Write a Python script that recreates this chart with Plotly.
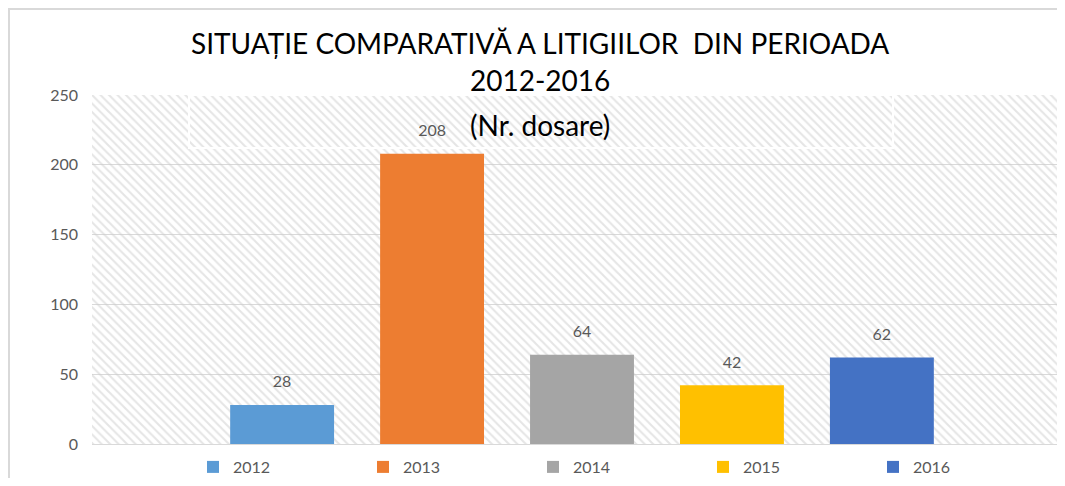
import plotly.graph_objects as go

# ---- data ----
years = ["2012", "2013", "2014", "2015", "2016"]
values = [28, 208, 64, 42, 62]
colors = ["#5B9BD5", "#ED7D31", "#A5A5A5", "#FFC000", "#4472C4"]
category = "Nr. dosare"
title_lines = ["SITUAȚIE COMPARATIVĂ A LITIGIILOR\u00a0 DIN PERIOADA", "2012-2016", "(Nr. dosare)"]
y_ticks = [0, 50, 100, 150, 200, 250]

FONT = "Lato"
OFF = 8                      # page body margin offset of the figure on screen
W, H = 1065 - 2 * OFF, 486 - 2 * OFF
ML = 92 - OFF                # plot left  (screen x 92)
MT = 95 - OFF                # plot top   (screen y 95)
MB = H - (444 - OFF)         # plot bottom (screen y 444)
MR = 0
PW = W - ML - MR
PH = H - MT - MB
FULL_PW = 980                # full plot width of the (cropped) original

def px_x(sx):
    return (sx - OFF - ML) / PW

def px_y(sy):
    return (H - MB - (sy - OFF)) / PH

fig = go.Figure()

# hatched plot-area background (decoration) on the base helper axis
fig.add_trace(go.Scatter(
    x=[0, 1, 1, 0, 0], y=[0, 0, 250, 250, 0],
    xaxis="x", yaxis="y", mode="lines", line=dict(width=0),
    fill="toself", fillcolor="rgba(0,0,0,0)",
    fillpattern=dict(shape="\\", fgcolor="#cccccc", bgcolor="rgba(0,0,0,0)",
                     size=6, solidity=0.35),
    hoverinfo="skip", showlegend=False,
))

for yr, v, c in zip(years, values, colors):
    fig.add_trace(go.Bar(
        x=[category], y=[v], name=yr, xaxis="x2", yaxis="y",
        offsetgroup=yr,
        marker=dict(color=c, line=dict(width=0)),
    ))

# value labels, grouped like the bars
for yr, v in zip(years, values):
    fig.add_trace(go.Scatter(
        x=[category], y=[v], xaxis="x2", yaxis="y", offsetgroup=yr,
        mode="markers+text", text=[str(v)], textposition="top center",
        marker=dict(size=20, color="rgba(0,0,0,0)"),
        textfont=dict(family=FONT, size=16, color="#595959"),
        cliponaxis=False, hoverinfo="skip", showlegend=False,
    ))

for line, yy in zip(title_lines, [43, 80, 125]):
    fig.add_annotation(
        text=line, x=px_x(540), xref="paper", y=px_y(yy), yref="paper",
        showarrow=False, xanchor="center", yanchor="middle",
        font=dict(family=FONT, size=28, color="#000000"),
    )

# outer chart border (partially cropped) and title box outline
fig.add_shape(type="rect", xref="paper", yref="paper",
              x0=px_x(9), x1=px_x(1100), y0=px_y(520), y1=px_y(9),
              line=dict(color="#d9d9d9", width=2), layer="above")
fig.add_shape(type="rect", xref="paper", yref="paper",
              x0=px_x(189), x1=px_x(893), y0=px_y(148), y1=px_y(95),
              line=dict(color="#ffffff", width=2), layer="above")

fig.update_layout(
    width=W, height=H,
    margin=dict(l=ML, r=MR, t=MT, b=MB, autoexpand=False),
    paper_bgcolor="white", plot_bgcolor="white",
    barmode="group", bargap=0.235, bargroupgap=0.307,
    scattermode="group", scattergap=0.235,
    showlegend=True,
    legend=dict(orientation="h", x=px_x(193), xanchor="left",
                y=px_y(467), yanchor="middle", entrywidth=125,
                font=dict(family=FONT, size=16, color="#595959"),
                bgcolor="rgba(0,0,0,0)"),
    xaxis=dict(range=[0, 1], visible=False, fixedrange=True,
               showgrid=False, zeroline=False),
    xaxis2=dict(overlaying="x", type="category",
                range=[-0.5, -0.5 + PW / FULL_PW],
                showticklabels=False, showgrid=False, zeroline=False,
                showline=True, linecolor="#d9d9d9", linewidth=1, ticks=""),
    yaxis=dict(range=[0, 250], tickvals=y_ticks, showgrid=True,
               gridcolor="#d9d9d9", gridwidth=1, zeroline=False,
               showline=False, ticks="", ticklen=0, ticklabelstandoff=13,
               tickfont=dict(family=FONT, size=16, color="#595959")),
    font=dict(family=FONT),
)

fig.write_html("out.html")
